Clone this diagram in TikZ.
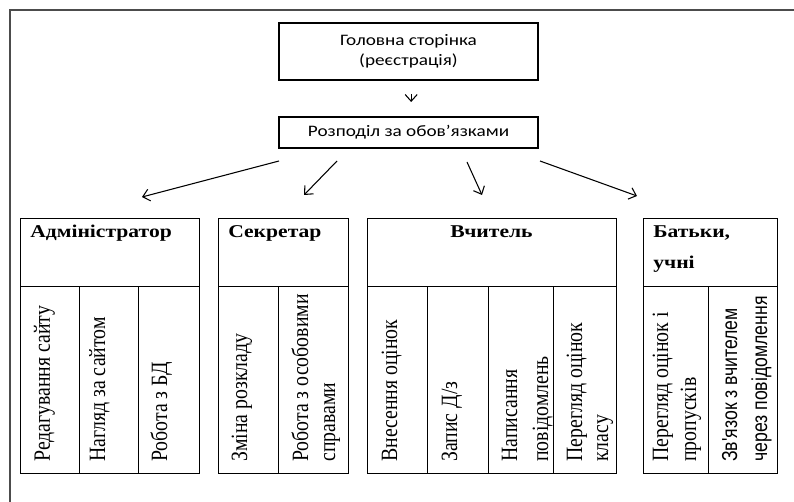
\documentclass[tikz,border=0pt]{standalone}
\usepackage{fontspec}
\setmainfont{Liberation Serif}
\newfontfamily\boxfont{Carlito}
\newfontfamily\narrowfont{Liberation Sans}
\usetikzlibrary{arrows.meta}

% rotated column captions: scaled along the line and across it
\newcommand\colserif[1]{\scalebox{1.06}[1.25]{\fontsize{14}{16}\selectfont #1}}
\newcommand\colsans[1]{\scalebox{1.02}[1.25]{\narrowfont\fontsize{13}{16}\selectfont #1}}
% widened horizontal captions
\newcommand\wide[1]{\scalebox{1.2}[1]{#1}}

\begin{document}
\begin{tikzpicture}[x=0.75pt, y=-0.75pt,
  wh/.style n args={2}{minimum width=#1*0.75pt, minimum height=#2*0.75pt},
  topbox/.style={draw, line width=1.5pt, inner sep=0pt, anchor=north west},
  cell/.style={draw, line width=0.9pt, inner sep=0pt, anchor=north west},
  link/.style={line width=0.8pt, -{Straight Barb[length=5pt,width=9pt]}},
  headtext/.style={anchor=base west, inner sep=0pt,
    font=\fontsize{13.5}{16}\selectfont\bfseries},
  vtext/.style={anchor=base west, inner sep=0pt, rotate=90},
  frame/.style={draw=black!70, line width=1.5pt},
]
\useasboundingbox (0,0) rectangle (794,502);
\fill[white] (0,0) rectangle (794,502);

% page frame
\draw[frame] (800,10) -| (10,510);

% top level
\node[topbox, wh={259}{57}, align=center,
      font=\boxfont\fontsize{12}{15}\selectfont] (home) at (278,22)
  {\wide{Головна сторінка}\\\wide{(реєстрація)}};
\node[topbox, wh={259}{31},
      font=\boxfont\fontsize{12}{15}\selectfont] (duty) at (278,116)
  {\wide{Розподіл за обов’язками}};
\draw[link, shorten <=9.75pt, shorten >=10.5pt]
  ([xshift=2pt]home.south) -- ([xshift=2pt]duty.north);

% arrows towards the roles
\coordinate (s1) at (279,161); \coordinate (e1) at (142,197);
\coordinate (s2) at (337,161); \coordinate (e2) at (304,195);
\coordinate (s3) at (467,162); \coordinate (e3) at (482,195);
\coordinate (s4) at (540,161); \coordinate (e4) at (637,196);
\draw[link] (s1) -- (e1);
\draw[link] (s2) -- (e2);
\draw[link] (s3) -- (e3);
\draw[link] (s4) -- (e4);

% Адміністратор
\node[cell, wh={179}{68}] (admH) at (20,218) {};
\node[cell, wh={59}{187}] (adm1) at (20,286) {};
\node[cell, wh={59}{187}] (adm2) at (79,286) {};
\node[cell, wh={61}{187}] (adm3) at (138,286) {};
\node[headtext] (admT) at (30,238) {\wide{Адміністратор}};
\node[vtext] (adm1a) at (50,462) {\colserif{Редагування сайту}};
\node[vtext] (adm2a) at (105,462) {\colserif{Нагляд за сайтом}};
\node[vtext] (adm3a) at (167,462) {\colserif{Робота з БД}};

% Секретар
\node[cell, wh={130}{68}] (secH) at (218,218) {};
\node[cell, wh={60}{187}] (sec1) at (218,286) {};
\node[cell, wh={70}{187}] (sec2) at (278,286) {};
\node[headtext] (secT) at (228,238) {\wide{Секретар}};
\node[vtext] (sec1a) at (247,462) {\colserif{Зміна розкладу}};
\node[vtext] (sec2a) at (308,462) {\colserif{Робота з особовими}};
\node[vtext] (sec2b) at (335,462) {\colserif{справами}};

% Вчитель
\node[cell, wh={249}{68}] (tchH) at (367,218) {};
\node[cell, wh={60}{187}] (tch1) at (367,286) {};
\node[cell, wh={61}{187}] (tch2) at (427,286) {};
\node[cell, wh={65}{187}] (tch3) at (488,286) {};
\node[cell, wh={63}{187}] (tch4) at (553,286) {};
\node[headtext, anchor=base] (tchT) at (491.5,238) {\wide{Вчитель}};
\node[vtext] (tch1a) at (397,462) {\colserif{Внесення оцінок}};
\node[vtext] (tch2a) at (457,462) {\colserif{Запис Д/з}};
\node[vtext] (tch3a) at (517,462) {\colserif{Написання}};
\node[vtext] (tch3b) at (548,462) {\colserif{повідомлень}};
\node[vtext] (tch4a) at (582,462) {\colserif{Перегляд оцінок}};
\node[vtext] (tch4b) at (608,462) {\colserif{класу}};

% Батьки, учні
\node[cell, wh={134}{68}] (parH) at (643,218) {};
\node[cell, wh={65}{187}] (par1) at (643,286) {};
\node[cell, wh={69}{187}] (par2) at (708,286) {};
\node[headtext] (parT) at (653,238) {\wide{Батьки,}};
\node[headtext] (parU) at (653,269) {\wide{учні}};
\node[vtext] (par1a) at (668,462) {\colserif{Перегляд оцінок і}};
\node[vtext] (par1b) at (696,462) {\colserif{пропусків}};
\node[vtext] (par2a) at (737,462) {\colsans{Зв'язок з вчителем}};
\node[vtext] (par2b) at (767,462) {\colsans{через повідомлення}};
\end{tikzpicture}
\end{document}
